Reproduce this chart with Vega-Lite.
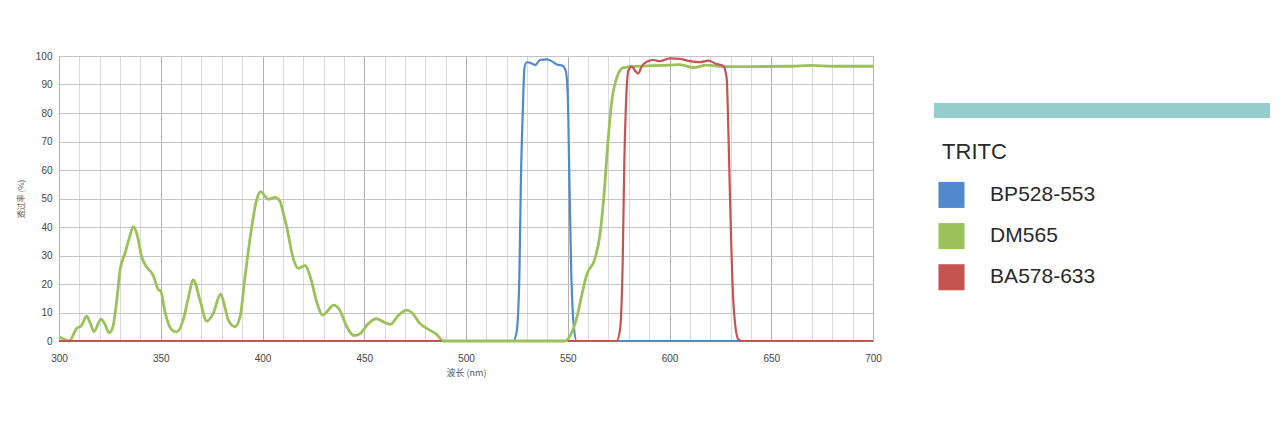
{
  "$schema": "https://vega.github.io/schema/vega-lite/v6.json",
  "background": "white",
  "padding": {"left": 16, "top": 50, "right": 0, "bottom": 0},
  "spacing": 44,
  "config": {"font": "Liberation Sans"},
  "datasets": {
    "curves": [
      {"series": "BP528-553", "seg": 1, "nm": 300, "t": 0},
      {"series": "BP528-553", "seg": 1, "nm": 520, "t": 0},
      {"series": "BP528-553", "seg": 1, "nm": 523.2, "t": 0},
      {"series": "BP528-553", "seg": 1, "nm": 524.9, "t": 3.3},
      {"series": "BP528-553", "seg": 1, "nm": 526.2, "t": 22},
      {"series": "BP528-553", "seg": 1, "nm": 527, "t": 57},
      {"series": "BP528-553", "seg": 1, "nm": 527.9, "t": 80.5},
      {"series": "BP528-553", "seg": 1, "nm": 528.7, "t": 95.7},
      {"series": "BP528-553", "seg": 1, "nm": 529.8, "t": 97.8},
      {"series": "BP528-553", "seg": 1, "nm": 532.3, "t": 97.4},
      {"series": "BP528-553", "seg": 1, "nm": 533.9, "t": 96.8},
      {"series": "BP528-553", "seg": 1, "nm": 536.4, "t": 98.6},
      {"series": "BP528-553", "seg": 1, "nm": 539.7, "t": 98.8},
      {"series": "BP528-553", "seg": 1, "nm": 542.1, "t": 98.2},
      {"series": "BP528-553", "seg": 1, "nm": 544.6, "t": 97},
      {"series": "BP528-553", "seg": 1, "nm": 547.5, "t": 96.6},
      {"series": "BP528-553", "seg": 1, "nm": 549.1, "t": 94.5},
      {"series": "BP528-553", "seg": 1, "nm": 550, "t": 86.3},
      {"series": "BP528-553", "seg": 1, "nm": 550.8, "t": 57},
      {"series": "BP528-553", "seg": 1, "nm": 551.6, "t": 27.8},
      {"series": "BP528-553", "seg": 1, "nm": 552.7, "t": 7.6},
      {"series": "BP528-553", "seg": 1, "nm": 554.4, "t": 0},
      {"series": "BP528-553", "seg": 1, "nm": 700, "t": 0},

      {"series": "DM565", "seg": 1, "nm": 300, "t": 1.5},
      {"series": "DM565", "seg": 1, "nm": 302, "t": 0.8},
      {"series": "DM565", "seg": 1, "nm": 305, "t": 0},
      {"series": "DM565", "seg": 1, "nm": 308.7, "t": 4.4},
      {"series": "DM565", "seg": 1, "nm": 311.1, "t": 5.5},
      {"series": "DM565", "seg": 1, "nm": 313.6, "t": 8.7},
      {"series": "DM565", "seg": 1, "nm": 315.5, "t": 6},
      {"series": "DM565", "seg": 1, "nm": 317.2, "t": 3.3},
      {"series": "DM565", "seg": 1, "nm": 320.6, "t": 7.7},
      {"series": "DM565", "seg": 1, "nm": 322.5, "t": 6},
      {"series": "DM565", "seg": 1, "nm": 324.7, "t": 2.9},
      {"series": "DM565", "seg": 1, "nm": 326.5, "t": 5},
      {"series": "DM565", "seg": 1, "nm": 328.5, "t": 15},
      {"series": "DM565", "seg": 1, "nm": 330, "t": 24.9},
      {"series": "DM565", "seg": 1, "nm": 332.4, "t": 30.7},
      {"series": "DM565", "seg": 1, "nm": 334.5, "t": 36},
      {"series": "DM565", "seg": 1, "nm": 336.5, "t": 40.1},
      {"series": "DM565", "seg": 1, "nm": 338.5, "t": 37},
      {"series": "DM565", "seg": 1, "nm": 340.6, "t": 29.6},
      {"series": "DM565", "seg": 1, "nm": 343, "t": 26},
      {"series": "DM565", "seg": 1, "nm": 346.3, "t": 23},
      {"series": "DM565", "seg": 1, "nm": 348.2, "t": 19},
      {"series": "DM565", "seg": 1, "nm": 348.8, "t": 18},
      {"series": "DM565", "seg": 1, "nm": 350, "t": 17.5},
      {"series": "DM565", "seg": 1, "nm": 352, "t": 10.5},
      {"series": "DM565", "seg": 1, "nm": 355.4, "t": 3.9},
      {"series": "DM565", "seg": 1, "nm": 357.8, "t": 3.2},
      {"series": "DM565", "seg": 1, "nm": 361, "t": 7.3},
      {"series": "DM565", "seg": 1, "nm": 363.5, "t": 15},
      {"series": "DM565", "seg": 1, "nm": 366, "t": 21.4},
      {"series": "DM565", "seg": 1, "nm": 369.3, "t": 14.3},
      {"series": "DM565", "seg": 1, "nm": 372.6, "t": 7},
      {"series": "DM565", "seg": 1, "nm": 375.8, "t": 9.7},
      {"series": "DM565", "seg": 1, "nm": 379.4, "t": 16.4},
      {"series": "DM565", "seg": 1, "nm": 381.5, "t": 12},
      {"series": "DM565", "seg": 1, "nm": 383.2, "t": 7.3},
      {"series": "DM565", "seg": 1, "nm": 386.5, "t": 5},
      {"series": "DM565", "seg": 1, "nm": 389, "t": 8.5},
      {"series": "DM565", "seg": 1, "nm": 391.4, "t": 22.5},
      {"series": "DM565", "seg": 1, "nm": 394.7, "t": 40},
      {"series": "DM565", "seg": 1, "nm": 397.1, "t": 49.5},
      {"series": "DM565", "seg": 1, "nm": 399.1, "t": 52.4},
      {"series": "DM565", "seg": 1, "nm": 401, "t": 51},
      {"series": "DM565", "seg": 1, "nm": 402.9, "t": 49.7},
      {"series": "DM565", "seg": 1, "nm": 406.1, "t": 50.4},
      {"series": "DM565", "seg": 1, "nm": 408.6, "t": 49},
      {"series": "DM565", "seg": 1, "nm": 410.5, "t": 44},
      {"series": "DM565", "seg": 1, "nm": 411.9, "t": 40},
      {"series": "DM565", "seg": 1, "nm": 415.1, "t": 29},
      {"series": "DM565", "seg": 1, "nm": 417.6, "t": 25.5},
      {"series": "DM565", "seg": 1, "nm": 420.9, "t": 26.5},
      {"series": "DM565", "seg": 1, "nm": 423.7, "t": 22},
      {"series": "DM565", "seg": 1, "nm": 426.6, "t": 13.8},
      {"series": "DM565", "seg": 1, "nm": 429.6, "t": 9.1},
      {"series": "DM565", "seg": 1, "nm": 432.3, "t": 10.8},
      {"series": "DM565", "seg": 1, "nm": 434.8, "t": 12.6},
      {"series": "DM565", "seg": 1, "nm": 438, "t": 10.8},
      {"series": "DM565", "seg": 1, "nm": 441.4, "t": 5},
      {"series": "DM565", "seg": 1, "nm": 445, "t": 1.9},
      {"series": "DM565", "seg": 1, "nm": 448, "t": 2.6},
      {"series": "DM565", "seg": 1, "nm": 452, "t": 6.1},
      {"series": "DM565", "seg": 1, "nm": 456.1, "t": 7.8},
      {"series": "DM565", "seg": 1, "nm": 459.4, "t": 6.7},
      {"series": "DM565", "seg": 1, "nm": 462.7, "t": 5.8},
      {"series": "DM565", "seg": 1, "nm": 466.8, "t": 9},
      {"series": "DM565", "seg": 1, "nm": 470.9, "t": 10.8},
      {"series": "DM565", "seg": 1, "nm": 473.3, "t": 10},
      {"series": "DM565", "seg": 1, "nm": 477.4, "t": 6.1},
      {"series": "DM565", "seg": 1, "nm": 481.5, "t": 4.1},
      {"series": "DM565", "seg": 1, "nm": 485.6, "t": 2.3},
      {"series": "DM565", "seg": 1, "nm": 488.8, "t": 0},
      {"series": "DM565", "seg": 1, "nm": 500, "t": 0},
      {"series": "DM565", "seg": 1, "nm": 520, "t": 0},
      {"series": "DM565", "seg": 1, "nm": 548.6, "t": 0},
      {"series": "DM565", "seg": 1, "nm": 551.9, "t": 2.9},
      {"series": "DM565", "seg": 1, "nm": 554.4, "t": 8},
      {"series": "DM565", "seg": 1, "nm": 556.9, "t": 16.1},
      {"series": "DM565", "seg": 1, "nm": 559.3, "t": 23.2},
      {"series": "DM565", "seg": 1, "nm": 563.4, "t": 29},
      {"series": "DM565", "seg": 1, "nm": 565.8, "t": 37.2},
      {"series": "DM565", "seg": 1, "nm": 567.8, "t": 51.2},
      {"series": "DM565", "seg": 1, "nm": 569.9, "t": 71.1},
      {"series": "DM565", "seg": 1, "nm": 571.6, "t": 84},
      {"series": "DM565", "seg": 1, "nm": 574, "t": 92.2},
      {"series": "DM565", "seg": 1, "nm": 577.3, "t": 95.9},
      {"series": "DM565", "seg": 1, "nm": 582.2, "t": 96.3},
      {"series": "DM565", "seg": 1, "nm": 592, "t": 96.6},
      {"series": "DM565", "seg": 1, "nm": 600, "t": 96.8},
      {"series": "DM565", "seg": 1, "nm": 605.2, "t": 97},
      {"series": "DM565", "seg": 1, "nm": 611.7, "t": 95.9},
      {"series": "DM565", "seg": 1, "nm": 618.3, "t": 96.8},
      {"series": "DM565", "seg": 1, "nm": 626.4, "t": 96.3},
      {"series": "DM565", "seg": 1, "nm": 640, "t": 96.3},
      {"series": "DM565", "seg": 1, "nm": 660, "t": 96.4},
      {"series": "DM565", "seg": 1, "nm": 670, "t": 96.7},
      {"series": "DM565", "seg": 1, "nm": 680, "t": 96.4},
      {"series": "DM565", "seg": 1, "nm": 700, "t": 96.4},

      {"series": "BA578-633", "seg": 1, "nm": 300, "t": 0},
      {"series": "BA578-633", "seg": 1, "nm": 488, "t": 0},
      {"series": "BA578-633", "seg": 2, "nm": 550, "t": 0},
      {"series": "BA578-633", "seg": 2, "nm": 574, "t": 0},
      {"series": "BA578-633", "seg": 2, "nm": 575.7, "t": 4},
      {"series": "BA578-633", "seg": 2, "nm": 577, "t": 27.8},
      {"series": "BA578-633", "seg": 2, "nm": 577.8, "t": 62.9},
      {"series": "BA578-633", "seg": 2, "nm": 578.6, "t": 82.8},
      {"series": "BA578-633", "seg": 2, "nm": 579.8, "t": 95},
      {"series": "BA578-633", "seg": 2, "nm": 581.4, "t": 96.3},
      {"series": "BA578-633", "seg": 2, "nm": 583.5, "t": 94.5},
      {"series": "BA578-633", "seg": 2, "nm": 584.7, "t": 93.9},
      {"series": "BA578-633", "seg": 2, "nm": 586.3, "t": 96.3},
      {"series": "BA578-633", "seg": 2, "nm": 588.8, "t": 98},
      {"series": "BA578-633", "seg": 2, "nm": 592, "t": 98.6},
      {"series": "BA578-633", "seg": 2, "nm": 595.3, "t": 98.2},
      {"series": "BA578-633", "seg": 2, "nm": 600.2, "t": 99.2},
      {"series": "BA578-633", "seg": 2, "nm": 605.2, "t": 99},
      {"series": "BA578-633", "seg": 2, "nm": 610.1, "t": 98.2},
      {"series": "BA578-633", "seg": 2, "nm": 615, "t": 97.8},
      {"series": "BA578-633", "seg": 2, "nm": 619.1, "t": 98.4},
      {"series": "BA578-633", "seg": 2, "nm": 622.4, "t": 97.4},
      {"series": "BA578-633", "seg": 2, "nm": 626.4, "t": 96.5},
      {"series": "BA578-633", "seg": 2, "nm": 628.1, "t": 92.2},
      {"series": "BA578-633", "seg": 2, "nm": 628.9, "t": 74.6},
      {"series": "BA578-633", "seg": 2, "nm": 629.7, "t": 51.2},
      {"series": "BA578-633", "seg": 2, "nm": 630.6, "t": 27.8},
      {"series": "BA578-633", "seg": 2, "nm": 631.7, "t": 10.3},
      {"series": "BA578-633", "seg": 2, "nm": 633.8, "t": 0.6},
      {"series": "BA578-633", "seg": 2, "nm": 635.5, "t": 0},
      {"series": "BA578-633", "seg": 2, "nm": 700, "t": 0}
    ],
    "legend": [
      {"key": "bar", "label": "", "series": null},
      {"key": "title", "label": "TRITC", "series": null},
      {"key": "BP528-553", "label": "BP528-553", "series": "BP528-553"},
      {"key": "DM565", "label": "DM565", "series": "DM565"},
      {"key": "BA578-633", "label": "BA578-633", "series": "BA578-633"}
    ]
  },
  "hconcat": [
    {
      "width": 814,
      "height": 285,
      "data": {"name": "curves"},
      "view": {"stroke": "#bdbdbd"},
      "encoding": {
        "x": {
          "field": "nm", "type": "quantitative",
          "scale": {"domain": [300, 700], "nice": false, "zero": false},
          "axis": {
            "values": [300,310,320,330,340,350,360,370,380,390,400,410,420,430,440,450,460,470,480,490,500,510,520,530,540,550,560,570,580,590,600,610,620,630,640,650,660,670,680,690,700],
            "labelExpr": "datum.value % 50 === 0 ? datum.label : ''",
            "ticks": false, "domain": false, "labelFlush": false,
            "gridColor": {"condition": {"test": "datum.value % 50 === 0", "value": "#b0b0b0"}, "value": "#dadada"},
            "gridWidth": 1,
            "labelFontSize": 10, "labelColor": "#444", "labelPadding": 12,
            "title": "波长 (nm)", "titleFont": "Noto Sans CJK SC", "titleFontSize": 9,
            "titleFontWeight": "normal", "titleColor": "#555", "titlePadding": 5
          }
        },
        "y": {
          "field": "t", "type": "quantitative",
          "scale": {"domain": [0, 100], "nice": false},
          "axis": {
            "values": [0,10,20,30,40,50,60,70,80,90,100],
            "ticks": false, "domain": false,
            "gridColor": "#c4c4c4", "gridWidth": 1,
            "labelFontSize": 10, "labelColor": "#444", "labelPadding": 7,
            "title": "透过率 (%)", "titleFont": "Noto Sans CJK SC", "titleFontSize": 8,
            "titleFontWeight": "normal", "titleColor": "#555", "titlePadding": 10
          }
        },
        "color": {
          "field": "series", "type": "nominal",
          "scale": {"domain": ["BP528-553", "DM565", "BA578-633"], "range": ["#5089cc", "#9bc25a", "#c65350"]},
          "legend": null
        },
        "detail": {"field": "seg", "type": "nominal"}
      },
      "layer": [
        {"transform": [{"filter": "datum.series === 'BP528-553'"}], "mark": {"type": "line", "interpolate": "monotone", "strokeWidth": 2.2}},
        {"transform": [{"filter": "datum.series === 'DM565'"}], "mark": {"type": "line", "interpolate": "monotone", "strokeWidth": 2.8}},
        {"transform": [{"filter": "datum.series === 'BA578-633'"}], "mark": {"type": "line", "interpolate": "monotone", "strokeWidth": 2.2}}
      ]
    },
    {
      "width": 336,
      "height": 247,
      "data": {"name": "legend"},
      "view": {"stroke": null},
      "encoding": {
        "y": {"field": "key", "type": "ordinal", "sort": null,
              "scale": {"type": "point", "domain": ["bar", "title", "BP528-553", "DM565", "BA578-633"], "padding": 1, "align": 0.663},
              "axis": null}
      },
      "layer": [
        {
          "transform": [{"filter": "datum.key === 'bar'"}],
          "mark": {"type": "rule", "color": "#95cccc", "strokeWidth": 15, "strokeCap": "butt"},
          "encoding": {
            "x": {"datum": 0, "type": "quantitative", "scale": {"domain": [0, 1], "nice": false}, "axis": null},
            "x2": {"datum": 1}
          }
        },
        {
          "transform": [{"filter": "datum.key === 'title'"}],
          "mark": {"type": "text", "align": "left", "baseline": "middle", "fontSize": 22, "color": "#2a2a2a", "font": "Liberation Sans"},
          "encoding": {
            "x": {"datum": 0.024, "type": "quantitative"},
            "text": {"field": "label"}
          }
        },
        {
          "transform": [{"filter": "datum.series !== null"}],
          "mark": {"type": "square", "size": 680, "opacity": 1, "filled": true, "yOffset": 2},
          "encoding": {
            "x": {"datum": 0.052, "type": "quantitative"},
            "color": {"field": "series", "type": "nominal",
                      "scale": {"domain": ["BP528-553", "DM565", "BA578-633"], "range": ["#5089cc", "#9bc25a", "#c65350"]},
                      "legend": null}
          }
        },
        {
          "transform": [{"filter": "datum.series !== null"}],
          "mark": {"type": "text", "align": "left", "baseline": "middle", "fontSize": 21, "color": "#2a2a2a", "font": "Liberation Sans", "yOffset": 2},
          "encoding": {
            "x": {"datum": 0.167, "type": "quantitative"},
            "text": {"field": "label"}
          }
        }
      ]
    }
  ]
}
